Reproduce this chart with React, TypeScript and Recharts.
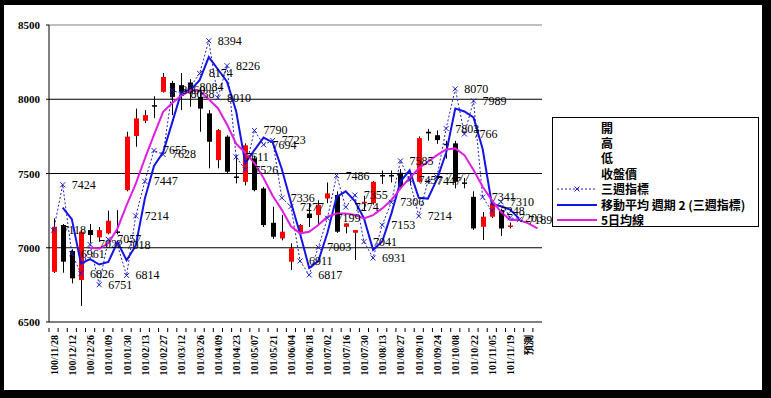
import {
  ComposedChart,
  Bar,
  Line,
  XAxis,
  YAxis,
  CartesianGrid,
  ReferenceLine,
  LabelList,
} from 'recharts';

const dates = [
  '100/11/28', '100/12/05', '100/12/12', '100/12/19', '100/12/26', '101/01/02', '101/01/09', '101/01/16',
  '101/01/30', '101/02/06', '101/02/13', '101/02/20', '101/02/27', '101/03/05', '101/03/12', '101/03/19',
  '101/03/26', '101/04/02', '101/04/09', '101/04/16', '101/04/23', '101/04/30', '101/05/07', '101/05/14',
  '101/05/21', '101/05/28', '101/06/04', '101/06/11', '101/06/18', '101/06/25', '101/07/02', '101/07/09',
  '101/07/16', '101/07/23', '101/07/30', '101/08/06', '101/08/13', '101/08/20', '101/08/27', '101/09/03',
  '101/09/10', '101/09/17', '101/09/24', '101/10/01', '101/10/08', '101/10/15', '101/10/22', '101/10/29',
  '101/11/05', '101/11/12', '101/11/19', '101/11/26', '預測', ' ',
];

// 開 / 高 / 低 / 收盤價
const openP = [
  6838, 7153, 6978, 6783, 7119, 7070, 7097, 7110, 7388, 7752, 7855, 7960, 8050, 8110, 8095, 8113,
  8016, 7905, 7590, 7748, 7480, 7444, 7601, 7399, 7168, 7063, 6906, 7097, 7230, 7220, 7332, 7355,
  7141, 7101, 7300, 7300, 7490, 7490, 7505, 7480, 7444, 7781, 7758, 7700, 7703, 7440, 7343, 7141,
  7209, 7254, 7150, null, null, null,
];
const highP = [
  7198, 7160, 6990, 7119, 7160, 7140, 7250, 7253, 7781, 7937, 7927, 8020, 8177, 8124, 8177, 8135,
  8070, 7927, 7800, 7758, 7623, 7703, 7620, 7410, 7276, 7220, 7030, 7160, 7300, 7320, 7440, 7380,
  7164, 7119, 7350, 7450, 7520, 7520, 7530, 7500, 7750, 7800, 7790, 7720, 7720, 7470, 7380, 7240,
  7310, 7260, 7170, null, null, null,
];
const lowP = [
  6830, 6832, 6760, 6608, 7030, 7040, 7090, 7090, 7380, 7680, 7839, 7873, 8045, 7893, 7927, 7949,
  7781, 7535, 7535, 7500, 7433, 7420, 7380, 7140, 7060, 7050, 6850, 7090, 7140, 7150, 7300, 7100,
  7097, 6917, 7250, 7290, 7430, 7440, 7400, 7420, 7440, 7720, 7700, 7600, 7400, 7400, 7120, 7052,
  7200, 7080, 7130, null, null, null,
];
const closeP = [
  7141, 6906, 6794, 7108, 7086, 7119, 7182, 7100, 7748, 7871, 7893, 7950, 8150, 8016, 8050, 8045,
  7937, 7714, 7792, 7512, 7470, 7690, 7388, 7153, 7074, 7108, 6996, 7153, 7200, 7287, 7366, 7108,
  7164, 7119, 7310, 7444, 7480, 7480, 7411, 7470, 7738, 7770, 7725, 7690, 7444, 7435, 7130, 7209,
  7298, 7130, 7150, null, null, null,
];

// 三週指標
const triWeek = [
  7118, 7424, 6961, 6826, 7022, 6751, 7057, 7018, 6814, 7214, 7447, 7655, 7628, 8060, 8038, 8084,
  8174, 8394, 8010, 8226, 7611, 7526, 7790, 7694, 7723, 7336, 7277, 6911, 6817, 7003, 7199, 7486,
  7274, 7355, 7041, 6931, 7153, 7306, 7585, 7457, 7214, 7447, 7477, 7803, 8070, 7766, 7989, 7341,
  7248, 7310, 7203, 7189, null, null,
];

// 移動平均 週期 2 (三週指標)
const triAvg = [
  null, 7271, 7193, 6894, 6924, 6887, 6904, 7038, 6916, 7014, 7331, 7551, 7642, 7844, 8049, 8061,
  8129, 8284, 8202, 8118, 7919, 7569, 7658, 7742, 7709, 7530, 7307, 7094, 6864, 6910, 7101, 7343,
  7380, 7315, 7198, 6986, 7042, 7230, 7446, 7521, 7336, 7331, 7462, 7640, 7937, 7918, 7878, 7665,
  7295, 7279, 7257, 7196, null, null,
];

// 5日均線
const ma5 = [
  null, null, null, null, 7000, 6993, 7030, 7130, 7287, 7430, 7600, 7760, 7915, 7975, 8025, 8060,
  8057, 8000, 7940, 7830, 7700, 7640, 7570, 7470, 7350, 7255, 7145, 7097, 7108, 7153, 7209, 7231,
  7231, 7220, 7198, 7220, 7265, 7321, 7400, 7470, 7534, 7579, 7624, 7662, 7669, 7624, 7523, 7411,
  7321, 7242, 7187, 7187, 7164, 7130,
];

const yTicks = [6500, 7000, 7500, 8000, 8500];

const data = dates.map((d, i) => ({
  date: d,
  open: openP[i],
  high: highP[i],
  low: lowP[i],
  close: closeP[i],
  range: highP[i] != null ? [lowP[i], highP[i]] : null,
  tri: triWeek[i],
  avg: triAvg[i],
  ma5: ma5[i],
}));

const TRI_COLOR = '#2020C0';
const AVG_COLOR = '#1414E6';
const MA5_COLOR = '#E020E0';
const SERIF = '"Liberation Serif", "DejaVu Serif", serif';
const CJK = '"Noto Sans CJK TC", "Noto Sans CJK SC", sans-serif';

function Candle(props: any) {
  const { x, y, width, height, payload } = props;
  if (!payload || payload.high == null || height == null) return null;
  const { open, close, high, low } = payload;
  const span = high - low || 1;
  const py = (v: number) => y + ((high - v) / span) * height;
  const up = close >= open;
  const cx = Math.round(x + width / 2) + 0.5;
  const top = py(Math.max(open, close));
  const bot = py(Math.min(open, close));
  return (
    <g>
      <line x1={cx} x2={cx} y1={y} y2={y + height} stroke="#000" strokeWidth={1} />
      <rect
        x={cx - 2.5}
        y={top}
        width={5}
        height={Math.max(1.5, bot - top)}
        fill={up ? '#FF0000' : '#000000'}
      />
    </g>
  );
}

function Cross(props: any) {
  const { cx, cy, value } = props;
  if (value == null || cx == null) return <g />;
  const s = 2.5;
  return (
    <path
      d={`M${cx - s},${cy - s}L${cx + s},${cy + s}M${cx - s},${cy + s}L${cx + s},${cy - s}`}
      stroke={TRI_COLOR}
      strokeWidth={1}
      fill="none"
    />
  );
}

function TriLabel(props: any) {
  const { x, y, value } = props;
  if (value == null) return null;
  return (
    <text x={x + 9} y={y + 4} fontSize={12} fontFamily={SERIF} fill="#000">
      {value}
    </text>
  );
}

function XTick(props: any) {
  const { x, y, payload, index } = props;
  const i = payload?.index ?? index;
  const half = 492 / 54 / 2;
  return (
    <g>
      <line x1={x - half} x2={x - half} y1={y - 2} y2={y + 2} stroke="#000" />
      {i % 2 === 0 && (
        <text
          transform={`translate(${x + 4},${y + 5}) rotate(-90)`}
          textAnchor="end"
          fontSize={10}
          fontWeight={700}
          fontFamily={SERIF}
          fill="#000"
        >
          {payload.value}
        </text>
      )}
    </g>
  );
}

function YTick(props: any) {
  const { x, y, payload } = props;
  return (
    <text x={x - 4} y={y + 4} textAnchor="end" fontSize={11} fontWeight={700} fontFamily={SERIF} fill="#000">
      {payload.value}
    </text>
  );
}

const legendItems = [
  { name: '開', kind: 'none' },
  { name: '高', kind: 'none' },
  { name: '低', kind: 'none' },
  { name: '收盤價', kind: 'none' },
  { name: '三週指標', kind: 'tri' },
  { name: '移動平均 週期 2 (三週指標)', kind: 'avg' },
  { name: '5日均線', kind: 'ma5' },
];

function ChartLegend() {
  return (
    <div
      style={{
        position: 'absolute',
        left: 552,
        top: 117,
        width: 207,
        height: 110,
        border: '1px solid #000',
        background: '#fff',
        boxSizing: 'border-box',
        paddingTop: 2,
      }}
    >
      {legendItems.map((it) => (
        <div key={it.name} style={{ height: 15.4, display: 'flex', alignItems: 'center' }}>
          <svg width={46} height={12} style={{ flex: 'none', marginLeft: 2 }}>
            {it.kind === 'tri' && (
              <g>
                <line x1={2} x2={42} y1={6} y2={6} stroke={TRI_COLOR} strokeDasharray="2 2" />
                <path d="M19.5,3.5L24.5,8.5M19.5,8.5L24.5,3.5" stroke={TRI_COLOR} />
              </g>
            )}
            {it.kind === 'avg' && <line x1={2} x2={42} y1={6} y2={6} stroke={AVG_COLOR} strokeWidth={2} />}
            {it.kind === 'ma5' && <line x1={2} x2={42} y1={6} y2={6} stroke={MA5_COLOR} strokeWidth={2} />}
          </svg>
          <span style={{ fontFamily: CJK, fontSize: 12, fontWeight: 700, lineHeight: '14px', whiteSpace: 'nowrap' }}>
            {it.name}
          </span>
        </div>
      ))}
    </div>
  );
}

export default function App() {
  return (
    <div style={{ position: 'absolute', left: 0, top: 0, width: 771, height: 398, background: '#000' }}>
      <div style={{ position: 'absolute', left: 4, top: 5, width: 758, height: 385, background: '#fff' }} />
      <div style={{ position: 'absolute', left: 0, top: 0 }}>
        <ComposedChart
          width={771}
          height={398}
          data={data}
          margin={{ top: 25, right: 229, bottom: 0, left: 0 }}
          barCategoryGap={0}
        >
          <CartesianGrid vertical={false} horizontal stroke="#000" horizontalValues={[7000, 7500, 8000]} />
          <XAxis
            dataKey="date"
            interval={0}
            tick={<XTick />}
            tickLine={false}
            axisLine={{ stroke: '#000' }}
            height={76}
          />
          <YAxis
            domain={[6500, 8500]}
            ticks={yTicks}
            tick={<YTick />}
            tickSize={3}
            tickLine={{ stroke: '#000' }}
            axisLine={{ stroke: '#000' }}
            width={49}
            allowDataOverflow
          />
          <YAxis yAxisId="right" orientation="right" width={0} tick={false} tickLine={false} axisLine={{ stroke: '#808080' }} />
          <ReferenceLine y={8500} stroke="#808080" />
          <Bar dataKey="range" barSize={5} shape={<Candle />} isAnimationActive={false} />
          <Line
            type="linear"
            dataKey="tri"
            stroke={TRI_COLOR}
            strokeWidth={1}
            strokeDasharray="2 2"
            dot={<Cross />}
            activeDot={false}
            isAnimationActive={false}
          />
          <Line
            type="linear"
            dataKey="avg"
            stroke={AVG_COLOR}
            strokeWidth={2}
            dot={false}
            activeDot={false}
            isAnimationActive={false}
          />
          <Line
            type="linear"
            dataKey="ma5"
            stroke={MA5_COLOR}
            strokeWidth={2}
            dot={false}
            activeDot={false}
            isAnimationActive={false}
          />
          <Line
            type="linear"
            dataKey="tri"
            stroke="none"
            dot={false}
            activeDot={false}
            legendType="none"
            isAnimationActive={false}
          >
            <LabelList dataKey="tri" content={<TriLabel />} />
          </Line>
        </ComposedChart>
      </div>
      <ChartLegend />
    </div>
  );
}
